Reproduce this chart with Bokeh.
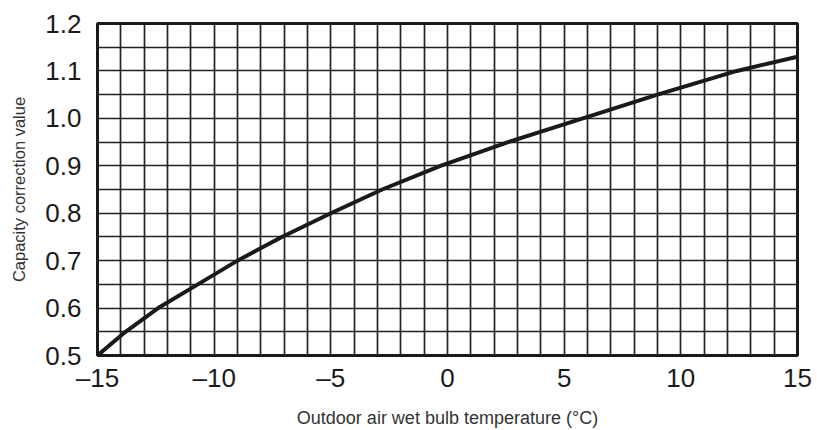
from bokeh.plotting import figure
from bokeh.models import Range1d, FixedTicker, PrintfTickFormatter
from bokeh.embed import file_html
from bokeh.resources import INLINE

# Data
wet_bulb_temp = [-15.0, -13.8, -12.4, -10.7, -9.0, -7.1, -5.0, -2.8, -0.3, 2.6, 5.8, 9.0, 12.4, 15.0]
capacity_correction = [0.50, 0.55, 0.60, 0.65, 0.70, 0.75, 0.80, 0.85, 0.90, 0.95, 1.00, 1.05, 1.10, 1.13]

x_major_ticks = [-15, -10, -5, 0, 5, 10, 15]
x_tick_labels = ["\u201315", "\u201310", "\u20135", "0", "5", "10", "15"]
y_major_ticks = [0.5, 0.6, 0.7, 0.8, 0.9, 1.0, 1.1, 1.2]
x_grid_ticks = list(range(-15, 16))
y_grid_ticks = [round(0.5 + 0.05 * i, 2) for i in range(15)]

FONT = "Liberation Sans"
INK = "#1a1a1a"

p = figure(width=817, height=430, output_backend="svg", toolbar_location=None,
           x_range=Range1d(-15, 15), y_range=Range1d(0.5, 1.2),
           min_border_left=97, min_border_top=23, min_border_right=20, min_border_bottom=75)

p.outline_line_color = INK
p.outline_line_width = 3

p.xgrid.ticker = FixedTicker(ticks=x_grid_ticks)
p.ygrid.ticker = FixedTicker(ticks=y_grid_ticks)
for g in (p.xgrid, p.ygrid):
    g.grid_line_color = "#222222"
    g.grid_line_width = 1.7
    g.grid_line_alpha = 1.0

p.xaxis.ticker = FixedTicker(ticks=x_major_ticks)
p.xaxis.major_label_overrides = {t: l for t, l in zip(x_major_ticks, x_tick_labels)}
p.yaxis.ticker = FixedTicker(ticks=y_major_ticks)
p.yaxis.formatter = PrintfTickFormatter(format="%.1f")

for ax in (p.xaxis, p.yaxis):
    ax.axis_line_color = None
    ax.major_tick_line_color = None
    ax.minor_tick_line_color = None
    ax.major_label_text_font = FONT
    ax.major_label_text_font_size = "26px"
    ax.major_label_text_color = INK
    ax.axis_label_text_font = FONT
    ax.axis_label_text_font_style = "normal"
    ax.axis_label_text_color = "#333333"

p.xaxis.axis_label = "Outdoor air wet bulb temperature (\u00b0C)"
p.xaxis.axis_label_text_font_size = "18px"
p.xaxis.major_label_standoff = 1
p.xaxis.axis_label_standoff = 12

p.yaxis.axis_label = "Capacity correction value"
p.yaxis.axis_label_text_font_size = "16.5px"
p.yaxis.major_label_standoff = 10
p.yaxis.axis_label_standoff = 14

p.line(wet_bulb_temp, capacity_correction, line_color=INK, line_width=4,
       line_join="round", line_cap="round")

open("out.html", "w").write(file_html(p, INLINE))
